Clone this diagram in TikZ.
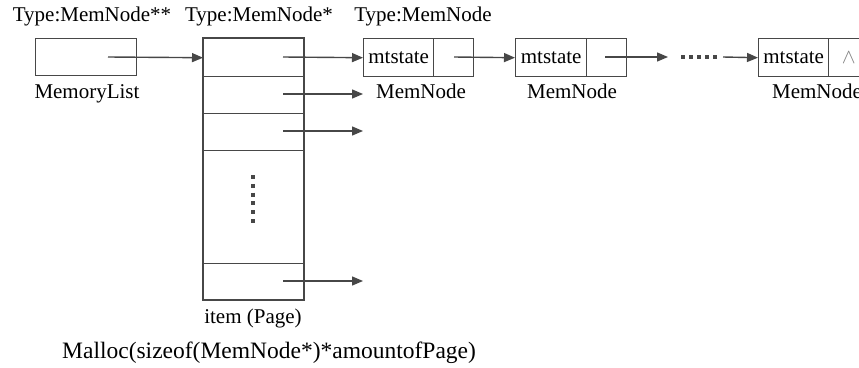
\documentclass[tikz,border=0pt]{standalone}
\usepackage{fontspec}
\setmainfont{Liberation Serif}
\usetikzlibrary{arrows.meta}
\begin{document}
\begin{tikzpicture}[x=1pt,y=-1pt,
  every node/.style={font=\fontsize{21}{25}\selectfont, text=black},
  cell/.style={draw=black!72, line width=1.4pt, rectangle, inner sep=0pt, anchor=north west},
  lab/.style={anchor=base, inner sep=0pt},
  link/.style={draw=black!72, line width=1.4pt, -{Triangle[length=11pt,width=9pt]}},
  dotline/.style={draw=black!72, line width=4pt},
  ]
\useasboundingbox (0,0) rectangle (859,367);
\clip (0,0) rectangle (859,367);
% labels at top
\node[lab] (t1) at (92,21) {Type:MemNode**};
\node[lab] (t2) at (259,21) {Type:MemNode*};
\node[lab] (t3) at (423,21) {Type:MemNode};
% MemoryList
\node[cell, minimum width=101pt, minimum height=37pt] (ml) at (35,38) {};
\node[lab] (mll) at (87,98) {MemoryList};
% Page column
\node[cell, minimum width=100pt, minimum height=38pt] (pr1) at (203,38) {};
\node[cell, minimum width=100pt, minimum height=37pt] (pr2) at (203,76) {};
\node[cell, minimum width=100pt, minimum height=37pt] (pr3) at (203,113) {};
\node[cell, minimum width=100pt, minimum height=113pt] (prd) at (203,150) {};
\node[cell, minimum width=100pt, minimum height=36pt] (pr5) at (203,263) {};
\draw[draw=black!72, line width=2pt] (pr1.north west) rectangle (pr5.south east);
\coordinate (vd1) at (253,175);
\coordinate (vd2) at (253,223);
\draw[dotline, dash pattern=on 4pt off 4.8pt] (vd1) -- (vd2);
\node[lab] (pl) at (253,323) {item (Page)};
\node[lab, anchor=base west, font=\fontsize{23.5}{28}\selectfont] (mal) at (62,358) {Malloc(sizeof(MemNode*)*amountofPage)};
% MemNodes
\node[cell, minimum width=70pt, minimum height=38pt] (a1) at (363,38) {mtstate};
\node[cell, minimum width=40pt, minimum height=38pt] (p1) at (433,38) {};
\node[cell, minimum width=71pt, minimum height=38pt] (a2) at (515,38) {mtstate};
\node[cell, minimum width=40pt, minimum height=38pt] (p2) at (586,38) {};
\node[cell, minimum width=70pt, minimum height=38pt] (a3) at (758,38) {mtstate};
\node[cell, minimum width=40pt, minimum height=38pt, text=black!50] (p3) at (828,38) {$\wedge$};
\node[lab] (n1) at (421,98) {MemNode};
\node[lab] (n2) at (572,98) {MemNode};
\node[lab] (n3) at (817,98) {MemNode};
% connectors
\coordinate (m0) at (108,57);
\draw[link] (m0) -- (pr1.west);
\coordinate (r1s) at (283,57);
\draw[link] (r1s) -- (a1.west);
\coordinate (r2s) at (283,94);
\coordinate (r2e) at (363,94);
\draw[link] (r2s) -- (r2e);
\coordinate (r3s) at (283,131);
\coordinate (r3e) at (363,131);
\draw[link] (r3s) -- (r3e);
\coordinate (r5s) at (283,281);
\coordinate (r5e) at (363,281);
\draw[link] (r5s) -- (r5e);
\coordinate (q1) at (454,57);
\draw[link] (q1) -- (a2.west);
\coordinate (q2) at (605,57);
\coordinate (q2e) at (668,57);
\draw[link] (q2) -- (q2e);
\coordinate (hd1) at (681,57);
\coordinate (hd2) at (717,57);
\draw[dotline, dash pattern=on 4pt off 4pt] (hd1) -- (hd2);
\coordinate (q3) at (723,57);
\draw[link] (q3) -- (a3.west);
\end{tikzpicture}
\end{document}
